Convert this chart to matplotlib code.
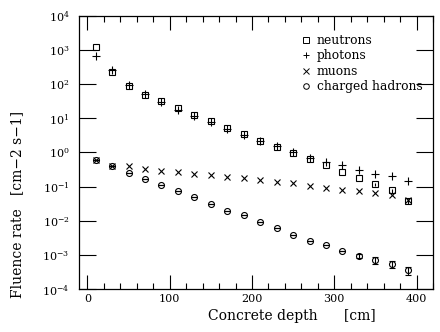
import matplotlib
matplotlib.use("Agg")
import matplotlib.pyplot as plt
from matplotlib.lines import Line2D
from matplotlib.ticker import LogLocator, MultipleLocator, NullLocator

plt.rcParams['font.family'] = ['DejaVu Serif']
plt.rcParams['mathtext.fontset'] = 'dejavuserif'

depth = [10, 30, 50, 70, 90, 110, 130, 150, 170, 190, 210, 230, 250, 270, 290, 310, 330, 350, 370, 390]
neutrons = [1190, 232, 86, 49, 31.6, 19.6, 12.9, 8.2, 5.2, 3.4, 2.2, 1.43, 0.95, 0.64, 0.42, 0.27, 0.18, 0.118, 0.077, 0.037]
photons = [660, 260, 98, 50, 31, 18, 12, 7.6, 5.0, 3.3, 2.1, 1.5, 1.0, 0.68, 0.52, 0.42, 0.30, 0.24, 0.20, 0.148]
muons = [0.6, 0.4, 0.39, 0.32, 0.28, 0.265, 0.24, 0.22, 0.19, 0.177, 0.16, 0.14, 0.13, 0.106, 0.091, 0.077, 0.072, 0.065, 0.055, 0.041]
hadrons = [0.6, 0.4, 0.25, 0.17, 0.114, 0.074, 0.048, 0.031, 0.019, 0.0144, 0.0091, 0.0063, 0.0037, 0.0026, 0.0020, 0.0013, 0.00095, 0.00069, 0.00054, 0.00035]
hadrons_err = [0, 0, 0, 0, 0, 0, 0, 0, 0, 0, 0, 0, 0, 0, 0, 0, 0.00014, 0.00016, 0.00013, 0.00009]
neutrons_err = [0, 0, 0, 0, 0, 0, 0, 0, 0, 0, 0, 0, 0, 0, 0, 0, 0, 0.012, 0.01, 0.006]
labels = ['neutrons', 'photons', 'muons', 'charged hadrons']

fig = plt.figure(figsize=(4.4, 3.32), dpi=100)
ax = fig.add_axes([0.18, 0.1295, 0.804, 0.8225])

ms = 4.3
ax.errorbar(depth, neutrons, yerr=neutrons_err, fmt='s', mfc='none', mec='black', ecolor='black',
            ms=ms, mew=0.8, elinewidth=0.8, capsize=0)
ax.plot(depth, photons, '+', color='black', ms=5.5, mew=0.8)
ax.plot(depth, muons, 'x', color='black', ms=4.5, mew=0.8)
ax.errorbar(depth, hadrons, yerr=hadrons_err, fmt='o', mfc='none', mec='black', ecolor='black',
            ms=ms, mew=0.8, elinewidth=0.8, capsize=2)

handles = [
    Line2D([], [], ls='none', marker='s', mfc='none', mec='black', ms=4, mew=0.7),
    Line2D([], [], ls='none', marker='+', color='black', ms=5, mew=0.7),
    Line2D([], [], ls='none', marker='x', color='black', ms=4, mew=0.7),
    Line2D([], [], ls='none', marker='o', mfc='none', mec='black', ms=4, mew=0.7),
]

ax.set_yscale('log')
ax.set_xlim(-10, 420)
ax.set_ylim(1e-4, 1e4)
ax.yaxis.set_major_locator(LogLocator(base=10, numticks=20))
ax.yaxis.set_minor_locator(NullLocator())
ax.xaxis.set_major_locator(MultipleLocator(100))
ax.xaxis.set_minor_locator(MultipleLocator(20))
ax.tick_params(which='both', direction='in', top=True, right=True, labelsize=8)
ax.tick_params(axis='y', which='major', length=12, width=0.8, pad=7)
ax.tick_params(axis='x', which='major', length=10, width=0.8)
ax.tick_params(axis='x', which='minor', length=4, width=0.8)
for s in ax.spines.values():
    s.set_linewidth(0.9)

ax.set_xlabel('Concrete depth      [cm]', fontsize=10)
ax.xaxis.set_label_coords(0.6, -0.075)
ax.set_ylabel('Fluence rate   [cm\u22122 s\u22121]', fontsize=10)
ax.yaxis.set_label_coords(-0.155, 0.31)

ax.legend(handles, labels, loc='upper right', frameon=False, fontsize=8.8,
          handlelength=0.8, handletextpad=0.5, labelspacing=0.2,
          bbox_to_anchor=(0.995, 0.965), borderaxespad=0.3)

fig.savefig('out.png', dpi=100)
